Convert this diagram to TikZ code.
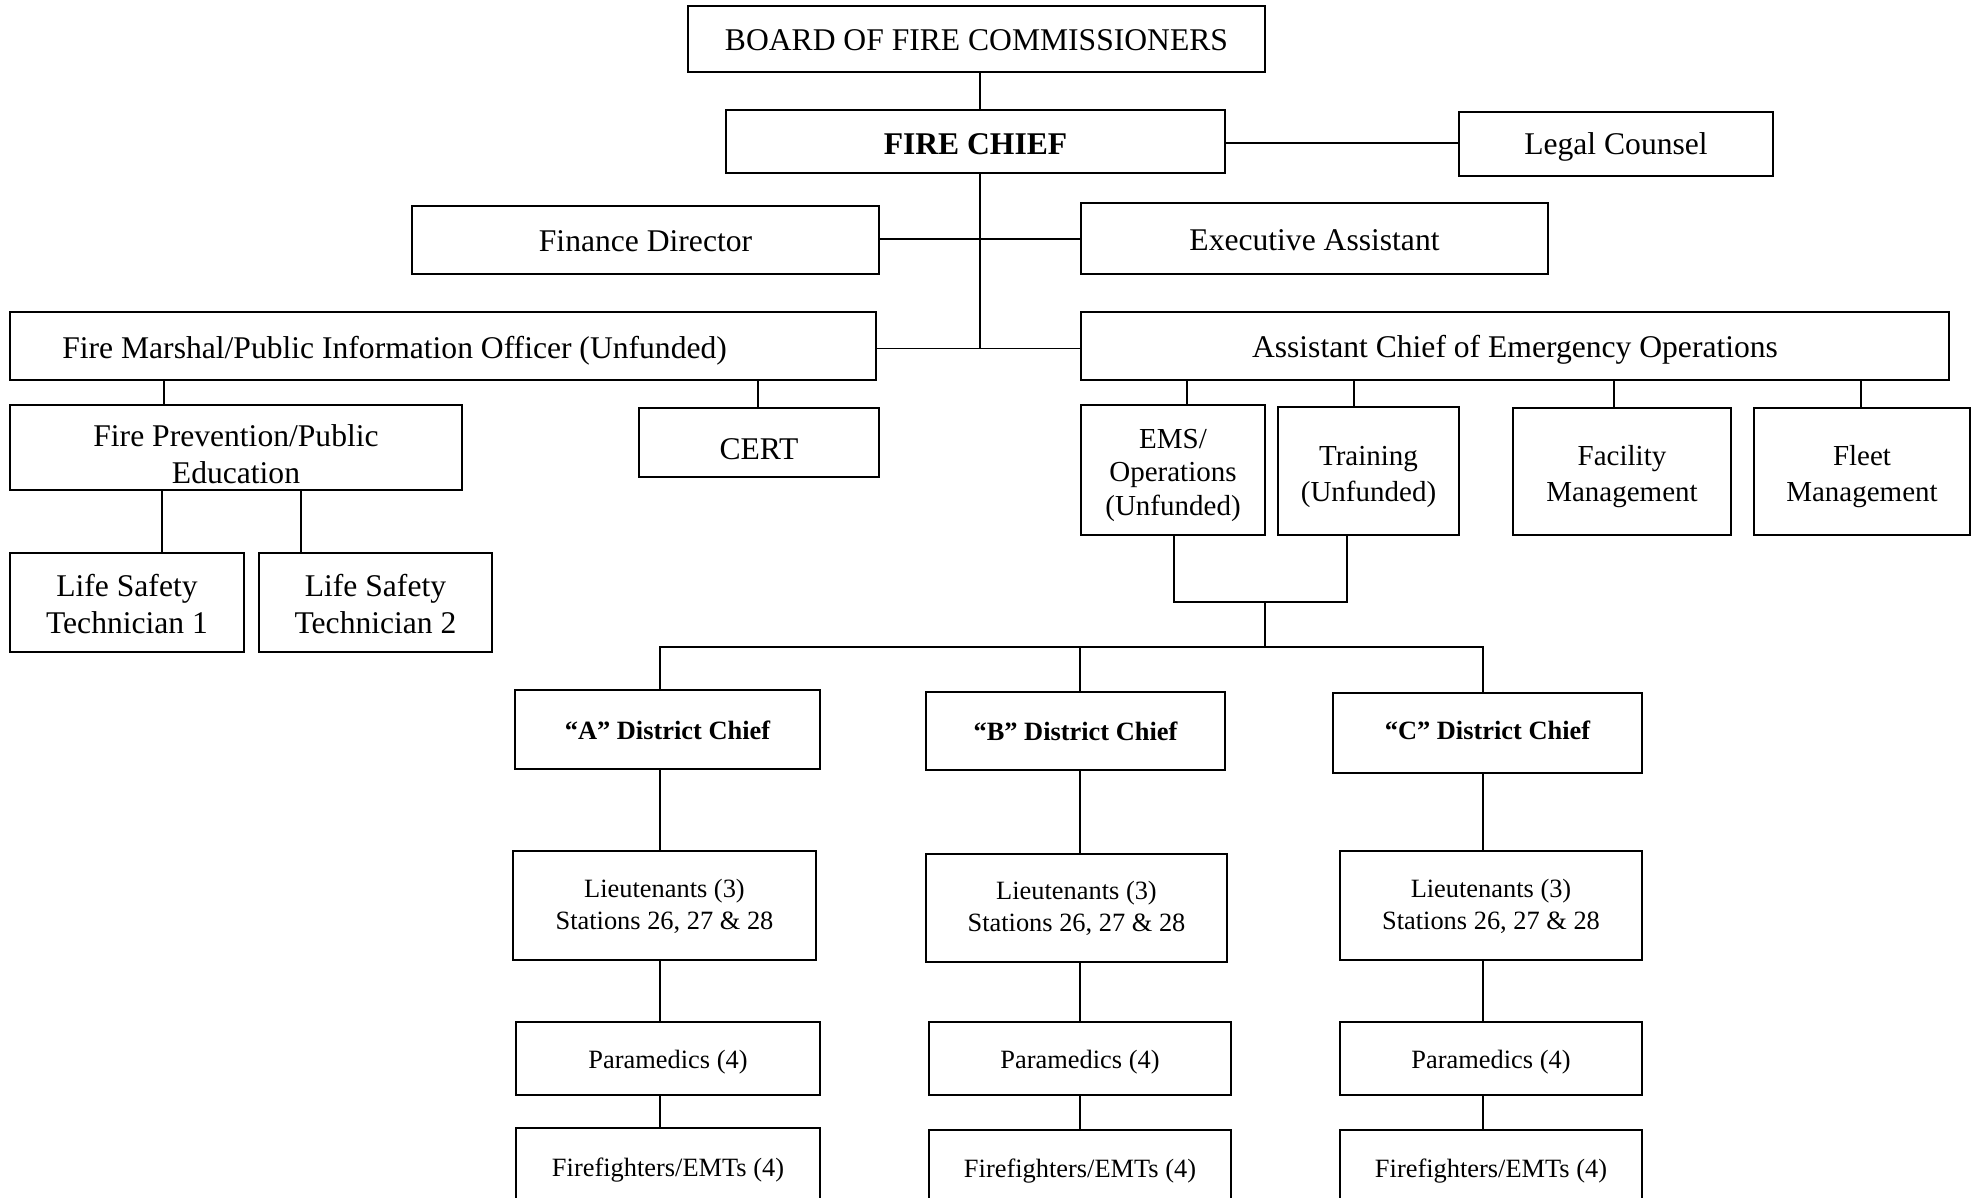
\documentclass[tikz,border=0pt]{standalone}
\usepackage{fontspec}
\setmainfont{Liberation Serif}
\newcommand\bgfont{\fontsize{31.6}{37}\selectfont}
\newcommand\smfont{\fontsize{26.4}{32}\selectfont}
\newcommand\mdfont{\fontsize{29}{35}\selectfont}
\begin{document}
\begin{tikzpicture}[x=1pt,y=-1pt,
  box/.style={draw, line width=1.8pt, inner sep=0pt},
  txt/.style={inner sep=0pt, align=center, font=\bgfont},
  stxt/.style={txt, font=\smfont},
  conn/.style={line width=1.6pt}]
\useasboundingbox (0,0) rectangle (1980,1197);
\clip (0,0) rectangle (1980,1197);
\fill[white] (0,0) rectangle (1980,1197);
% ---------- boxes ----------
\node[box, minimum width=577, minimum height=66] (board) at (976.5,39) {};
\node[box, minimum width=499, minimum height=63] (chief) at (975.5,141.5) {};
\node[box, minimum width=314, minimum height=64] (legal) at (1616,144) {};
\node[box, minimum width=467, minimum height=68] (finance) at (645.5,240) {};
\node[box, minimum width=467, minimum height=71] (exec) at (1314.5,238.5) {};
\node[box, minimum width=866, minimum height=68] (marshal) at (443,346) {};
\node[box, minimum width=868, minimum height=68] (asst) at (1515,346) {};
\node[box, minimum width=452, minimum height=85] (fireprev) at (236,447.5) {};
\node[box, minimum width=240, minimum height=69] (cert) at (759,442.5) {};
\node[box, minimum width=234, minimum height=99] (ls1) at (127,602.5) {};
\node[box, minimum width=233, minimum height=99] (ls2) at (375.5,602.5) {};
\node[box, minimum width=184, minimum height=130] (ems) at (1173,470) {};
\node[box, minimum width=181, minimum height=128] (training) at (1368.5,471) {};
\node[box, minimum width=218, minimum height=127] (facility) at (1622,471.5) {};
\node[box, minimum width=216, minimum height=127] (fleet) at (1862,471.5) {};
\node[box, minimum width=305, minimum height=79] (dA) at (667.5,729.5) {};
\node[box, minimum width=299, minimum height=78] (dB) at (1075.5,731) {};
\node[box, minimum width=309, minimum height=80] (dC) at (1487.5,733) {};
\node[box, minimum width=303, minimum height=109] (ltA) at (664.5,905.5) {};
\node[box, minimum width=301, minimum height=108] (ltB) at (1076.5,908) {};
\node[box, minimum width=302, minimum height=109] (ltC) at (1491,905.5) {};
\node[box, minimum width=304, minimum height=73] (pA) at (668,1058.5) {};
\node[box, minimum width=302, minimum height=73] (pB) at (1080,1058.5) {};
\node[box, minimum width=302, minimum height=73] (pC) at (1491,1058.5) {};
\node[box, minimum width=304, minimum height=84] (fA) at (668,1170) {};
\node[box, minimum width=302, minimum height=82] (fB) at (1080,1171) {};
\node[box, minimum width=302, minimum height=82] (fC) at (1491,1171) {};
% ---------- texts ----------
\node[txt, yshift=-1.5pt] (board-t) at (board.center) {BOARD OF FIRE COMMISSIONERS};
\node[txt, font=\bgfont\bfseries, yshift=-2.5pt] (chief-t) at (chief.center) {FIRE CHIEF};
\node[txt, yshift=-2.5pt] (legal-t) at (legal.center) {Legal Counsel};
\node[txt, yshift=-1.5pt] (finance-t) at (finance.center) {Finance Director};
\node[txt, yshift=-1.5pt] (exec-t) at (exec.center) {Executive Assistant};
\node[txt, anchor=west, yshift=-5pt] (marshal-t) at ([xshift=53pt]marshal.west) {Fire Marshal/Public Information Officer (Unfunded)};
\node[txt, yshift=-4pt] (asst-t) at (asst.center) {Assistant Chief of Emergency Operations};
\node[txt, yshift=-7pt] (fireprev-t) at (fireprev.center) {Fire Prevention/Public\\Education};
\node[txt, yshift=-7pt] (cert-t) at (cert.center) {CERT};
\node[txt, yshift=-2pt] (ls1-t) at (ls1.center) {Life Safety\\Technician 1};
\node[txt, yshift=-2pt] (ls2-t) at (ls2.center) {Life Safety\\Technician 2};
\node[txt, font=\fontsize{29}{33.5}\selectfont, yshift=-5pt] (ems-t) at (ems.center) {EMS/\\Operations\\(Unfunded)};
\node[txt, font=\fontsize{29}{36}\selectfont, yshift=-6pt] (training-t) at (training.center) {Training\\(Unfunded)};
\node[txt, font=\fontsize{29}{36}\selectfont, yshift=-5pt] (facility-t) at (facility.center) {Facility\\Management};
\node[txt, font=\fontsize{29}{36}\selectfont, yshift=-5pt] (fleet-t) at (fleet.center) {Fleet\\Management};
\node[stxt, font=\smfont\bfseries, yshift=-1pt] (dA-t) at (dA.center) {``A'' District Chief};
\node[stxt, font=\smfont\bfseries] (dB-t) at (dB.center) {``B'' District Chief};
\node[stxt, font=\smfont\bfseries, yshift=2.5pt] (dC-t) at (dC.center) {``C'' District Chief};
\node[stxt, yshift=-1pt] (ltA-t) at (ltA.center) {Lieutenants (3)\\Stations 26, 27 \& 28};
\node[stxt] (ltB-t) at (ltB.center) {Lieutenants (3)\\Stations 26, 27 \& 28};
\node[stxt, yshift=-1pt] (ltC-t) at (ltC.center) {Lieutenants (3)\\Stations 26, 27 \& 28};
\node[stxt, yshift=-3.5pt] (pA-t) at (pA.center) {Paramedics (4)};
\node[stxt, yshift=-3.5pt] (pB-t) at (pB.center) {Paramedics (4)};
\node[stxt, yshift=-3.5pt] (pC-t) at (pC.center) {Paramedics (4)};
\node[stxt] (fA-t) at (fA.center) {Firefighters/EMTs (4)};
\node[stxt] (fB-t) at (fB.center) {Firefighters/EMTs (4)};
\node[stxt] (fC-t) at (fC.center) {Firefighters/EMTs (4)};
% ---------- helper positions ----------
\coordinate (xtrunk) at (980,0);
\coordinate (xfp) at (164,0);
\coordinate (xcert) at (758,0);
\coordinate (xls1) at (162,0);
\coordinate (xls2) at (301,0);
\coordinate (xems) at (1187,0);
\coordinate (xtr) at (1354,0);
\coordinate (xfac) at (1614,0);
\coordinate (xfl) at (1861,0);
\coordinate (xemsd) at (1174,0);
\coordinate (xtrd) at (1347,0);
\coordinate (xmid) at (1265,0);
\coordinate (xA) at (660,0);
\coordinate (xB) at (1080,0);
\coordinate (xC) at (1483,0);
\coordinate (ybar1) at (0,602);
\coordinate (ybar2) at (0,647);
\coordinate (yfe) at (0,239);
\coordinate (yma) at (0,348.5);
\coordinate (ylg) at (0,143);
% ---------- connectors ----------
\draw[conn] (board.south -| xtrunk) -- (chief.north -| xtrunk);
\draw[conn] (ylg -| chief.east) -- (ylg -| legal.west);
\draw[conn] (chief.south -| xtrunk) -- (yma -| xtrunk);
\draw[conn] (yfe -| finance.east) -- (yfe -| exec.west);
\draw[conn] (yma -| marshal.east) -- (yma -| asst.west);
\draw[conn] (marshal.south -| xfp) -- (fireprev.north -| xfp);
\draw[conn] (marshal.south -| xcert) -- (cert.north -| xcert);
\draw[conn] (fireprev.south -| xls1) -- (ls1.north -| xls1);
\draw[conn] (fireprev.south -| xls2) -- (ls2.north -| xls2);
\draw[conn] (asst.south -| xems) -- (ems.north -| xems);
\draw[conn] (asst.south -| xtr) -- (training.north -| xtr);
\draw[conn] (asst.south -| xfac) -- (facility.north -| xfac);
\draw[conn] (asst.south -| xfl) -- (fleet.north -| xfl);
\draw[conn] (ems.south -| xemsd) -- (ybar1 -| xemsd) -- (ybar1 -| xtrd) -- (training.south -| xtrd);
\draw[conn] (ybar1 -| xmid) -- (ybar2 -| xmid);
\draw[conn] (dA.north -| xA) -- (ybar2 -| xA) -- (ybar2 -| xC) -- (dC.north -| xC);
\draw[conn] (ybar2 -| xB) -- (dB.north -| xB);
\draw[conn] (dA.south -| xA) -- (ltA.north -| xA);
\draw[conn] (ltA.south -| xA) -- (pA.north -| xA);
\draw[conn] (pA.south -| xA) -- (fA.north -| xA);
\draw[conn] (dB.south -| xB) -- (ltB.north -| xB);
\draw[conn] (ltB.south -| xB) -- (pB.north -| xB);
\draw[conn] (pB.south -| xB) -- (fB.north -| xB);
\draw[conn] (dC.south -| xC) -- (ltC.north -| xC);
\draw[conn] (ltC.south -| xC) -- (pC.north -| xC);
\draw[conn] (pC.south -| xC) -- (fC.north -| xC);
\end{tikzpicture}
\end{document}
